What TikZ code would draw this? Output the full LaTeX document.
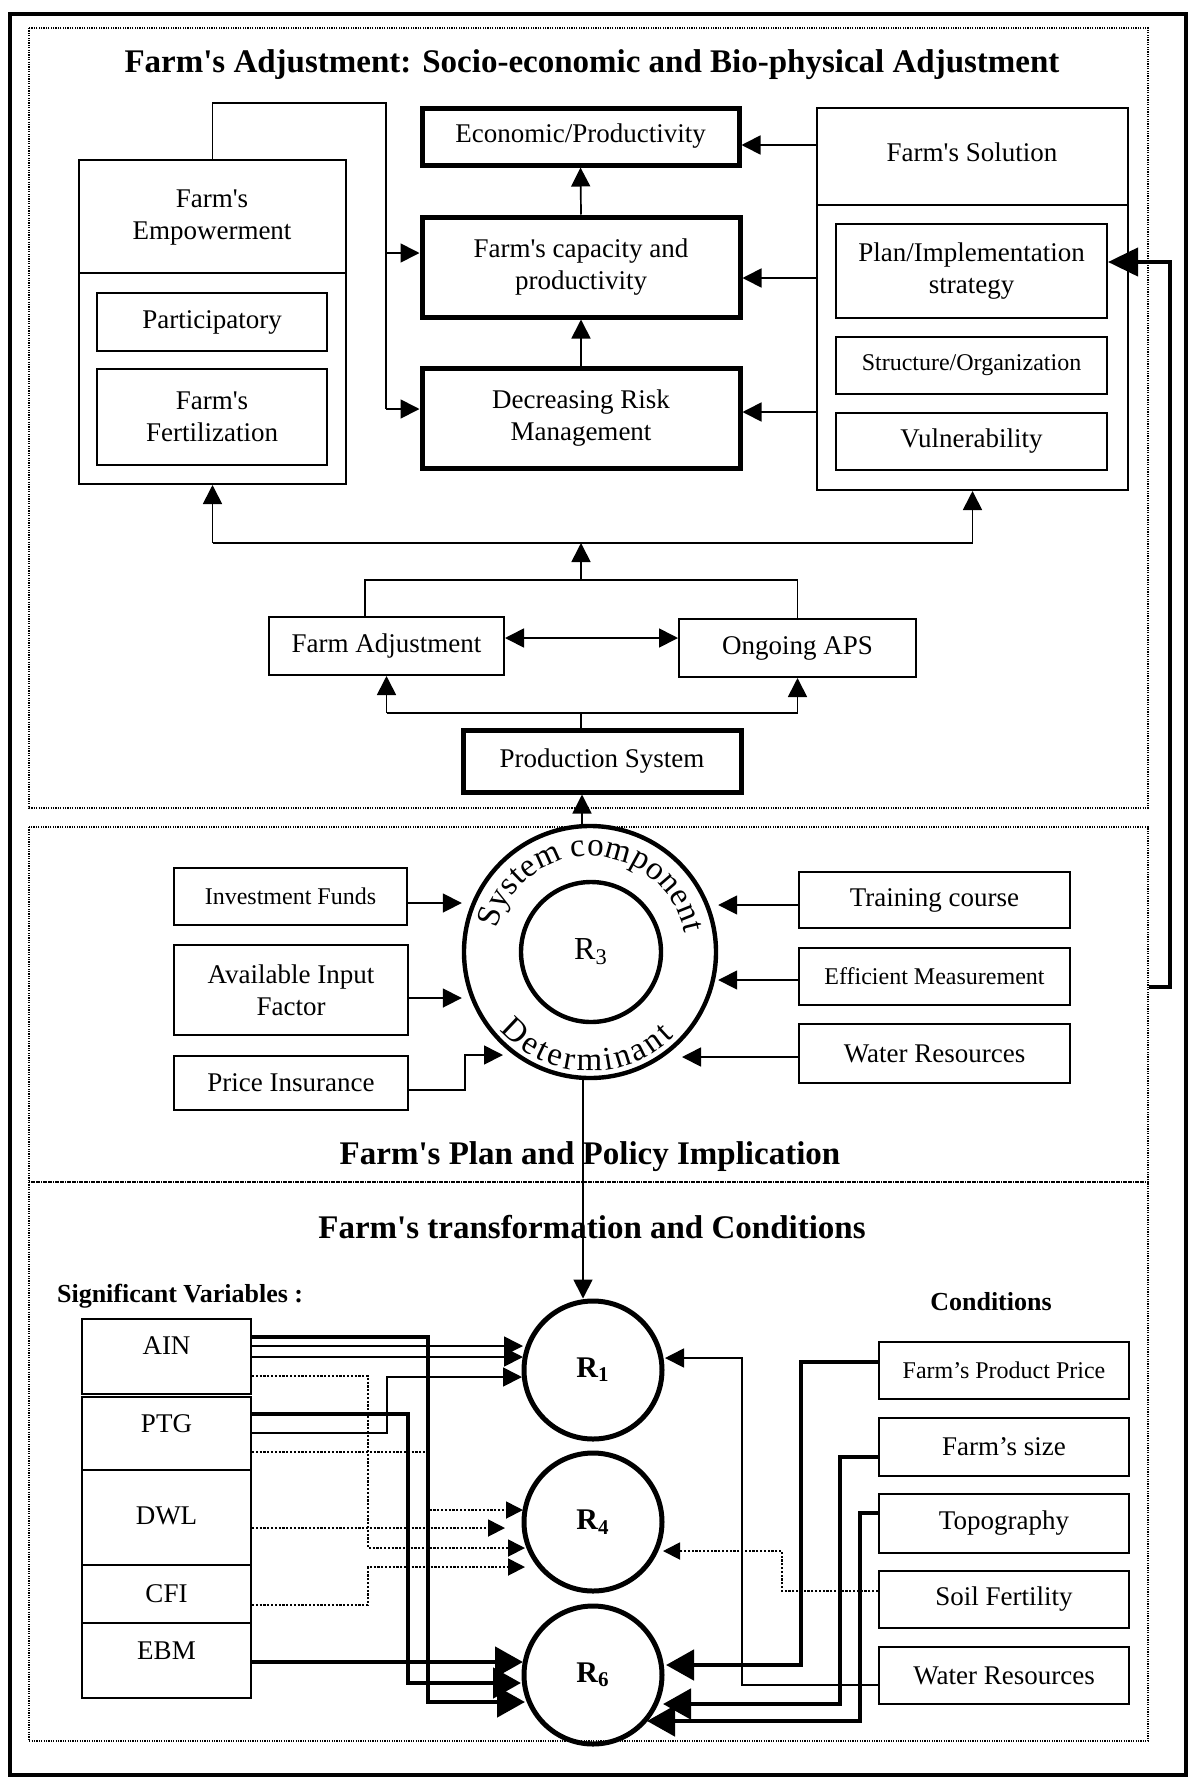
\documentclass[tikz,border=0pt]{standalone}
\usepackage{fontspec}
\setmainfont{Liberation Serif}
\usetikzlibrary{arrows.meta,decorations.text}
\newcommand\fnorm{\fontsize{13.5}{16}\selectfont}
\newcommand\fsmall{\fontsize{12}{14}\selectfont}
\newcommand\fhead{\fontsize{16.5}{19}\selectfont\bfseries}
\newcommand\fsubhead{\fontsize{13}{15}\selectfont\bfseries}
\newcommand\ringfont{\fontsize{16.5}{17}\selectfont}
\newcommand\sq{\textquotesingle}
\begin{document}
\begin{tikzpicture}[x=0.5pt,y=-0.5pt,
  ln/.style={line width=0.85pt},
  arr/.style={ln,-{Triangle[length=9.5pt,width=9.5pt]}},
  darr/.style={ln,{Triangle[length=9.5pt,width=9.5pt]}-{Triangle[length=9.5pt,width=9.5pt]}},
  dotl/.style={line width=0.9pt,dash pattern=on 1.1pt off 0.8pt},
  dotarr/.style={dotl,-{Triangle[length=8.5pt,width=8.5pt]}},
  thk/.style={line width=2.4pt,-{Triangle[length=14pt,width=15pt]}},
  fb/.style={line width=2.1pt,-{Triangle[length=15pt,width=14pt]}},
  frame/.style={line width=0.6pt,dash pattern=on 0.6pt off 0.6pt},
  box/.style={draw,line width=1pt,inner sep=0pt,align=center,font=\fnorm},
  tbox/.style={box,line width=2.5pt},
  sz/.style 2 args={minimum width=#1pt,minimum height=#2pt},
  rcirc/.style={draw,circle,line width=2.5pt,minimum size=69pt,inner sep=0pt,font=\fontsize{15}{15}\selectfont\bfseries},
  ttl/.style={font=\fhead}
]
\useasboundingbox (0,0) rectangle (1193,1778);
\fill[white] (0,0) rectangle (1193,1778);

% frames
\draw[line width=2pt] (10,14) rectangle (1186,1775);
\draw[frame] (29,28) rectangle (1148,808);
\draw[frame] (29,827) rectangle (1148,1182);
\draw[frame] (29,1182) rectangle (1148,1741);

% ---------- top section ----------
\node[ttl] (t1) at (592,65) {Farm\sq s Adjustment: Socio-economic and Bio-physical Adjustment};

\node[tbox, sz={158.5}{28.5}] (eco) at (580.5,136.5) {Economic/Productivity};
\node[tbox, sz={159}{50}] (cap) at (581,267) {Farm\sq s capacity and\\productivity};
\node[tbox, sz={159}{50}] (risk) at (581,418) {Decreasing Risk\\Management};

\node[box, sz={133.5}{162}] (emp) at (212.5,322) {};
\draw[line width=1pt] (emp.west |- 0,273) -- (emp.east |- 0,273);
\node[font=\fnorm, align=center] (empt) at (212,218) {Farm\sq s\\Empowerment};
\node[box, sz={115}{29}] (part) at (212,322) {Participatory};
\node[box, sz={115}{48}] (fert) at (212,417) {Farm\sq s\\Fertilization};

\node[box, sz={155.5}{191}] (sol) at (972.5,299) {};
\draw[line width=1pt] (sol.west |- 0,205) -- (sol.east |- 0,205);
\node[font=\fnorm] (solt) at (972,152) {Farm\sq s Solution};
\node[box, sz={135.5}{47}] (plan) at (971.5,271) {Plan/Implementation\\strategy};
\node[box, font=\fsmall, sz={135.5}{28.5}] (struc) at (971.5,365.5) {Structure/Organization};
\node[box, sz={135.5}{28.5}] (vul) at (971.5,441.5) {Vulnerability};

\node[box, sz={117.5}{29}] (fa) at (386.5,646) {Farm Adjustment};
\node[box, sz={118.5}{29}] (aps) at (797.5,648) {Ongoing APS};
\node[tbox, sz={139}{31}] (prod) at (602,761) {Production System};

% top connectors
\draw[ln] (emp.north) |- (386,103) -- (386,409);
\draw[arr] (386,409) -- (risk.west |- 0,409);
\draw[arr] (386,253) -- (cap.west |- 0,253);
\draw[arr] (risk.north) -- (cap.south);
\draw[arr] (cap.north) -- (eco.south);
\draw[arr] (sol.west |- 0,145) -- (eco.east |- 0,145);
\draw[arr] (sol.west |- 0,278) -- (cap.east |- 0,278);
\draw[arr] (sol.west |- 0,412) -- (risk.east |- 0,412);

\draw[ln] (emp.south |- 0,543) -- (sol.south |- 0,543);
\draw[arr] (emp.south |- 0,543) -- (emp.south);
\draw[arr] (sol.south |- 0,543) -- (sol.south);
\draw[ln] (fa.north -| 365,0) |- (aps.north |- 0,580) -- (aps.north);
\draw[arr] (581,580) -- (581,543);
\draw[darr] (fa.east |- 0,638) -- (aps.west |- 0,638);
\draw[ln] (prod.north -| 581,0) -- (581,713);
\draw[ln] (fa.south |- 0,713) -- (aps.south |- 0,713);
\draw[arr] (fa.south |- 0,713) -- (fa.south);
\draw[arr] (aps.south |- 0,713) -- (aps.south);

% ---------- middle section ----------
\node[draw, circle, line width=2.2pt, minimum size=126pt, inner sep=0pt] (ring) at (590,952) {};
\node[draw, circle, line width=2.2pt, minimum size=70pt, inner sep=0pt, font=\fontsize{16}{16}\selectfont] (r3) at (591,952) {R\textsubscript{3}};
\begin{scope}[shift={(590,952)}, x=0.5pt, y=0.5pt]
  \path[decorate, decoration={text along path, text={|\ringfont|System component}, text align={fit to path}}]
    (166:96) arc[start angle=166, end angle=11, radius=96];
  \path[decorate, decoration={text along path, text={|\ringfont|Determinant}, text align={fit to path}}]
    (221:119) arc[start angle=221, end angle=315, radius=119];
\end{scope}

\draw[arr] (ring.north -| 582,0) -- (prod.south -| 582,0);

\node[box, font=\fsmall, sz={116.5}{28.5}] (inv) at (290.5,896.5) {Investment Funds};
\node[box, sz={117}{45}] (avail) at (291,990) {Available Input\\Factor};
\node[box, sz={117}{27}] (price) at (291,1083) {Price Insurance};
\node[box, sz={135.5}{28}] (train) at (934.5,900) {Training course};
\node[box, font=\fsmall, sz={135.5}{28.5}] (eff) at (934.5,976.5) {Efficient Measurement};
\node[box, sz={135.5}{29.5}] (wat1) at (934.5,1053.5) {Water Resources};

\draw[arr] (inv.east |- 0,903) -- (ring.west |- 0,903);
\draw[arr] (avail.east |- 0,998) -- (ring.west |- 0,998);
\draw[arr] (price.east |- 0,1090) -- (465,1090) -- (465,1055) -- (503,1055);
\draw[arr] (train.west |- 0,905) -- (ring.east |- 0,905);
\draw[arr] (eff.west |- 0,980) -- (ring.east |- 0,980);
\draw[arr] (wat1.west |- 0,1057) -- (682,1057);

\coordinate (fbs) at (1149,987);
\draw[fb] (fbs) -| (1170,262) -- (plan.east |- 0,262);

\node[ttl] (t2) at (590,1157) {Farm\sq s Plan and Policy Implication};

% ---------- lower section ----------
\node[ttl] (t3) at (592,1227) {Farm\sq s transformation and Conditions};
\node[font=\fsubhead, anchor=west] (sig) at (50,1296) {Significant Variables :};
\node[font=\fsubhead] (cond) at (991,1302) {Conditions};

\node[rcirc] (r1) at (593,1370) {R\textsubscript{1}};
\node[rcirc] (r4) at (593,1522) {R\textsubscript{4}};
\node[rcirc] (r6) at (593,1675) {R\textsubscript{6}};

\draw[arr] (ring.south -| 583,0) -- (r1.north -| 583,0);

\node[box, sz={84.5}{37.5}, label={[font=\fnorm, yshift=5.5pt]center:AIN}] (ain) at (166.5,1356.5) {};
\node[box, sz={84.5}{36.5}, label={[font=\fnorm, yshift=4.7pt]center:PTG}] (ptg) at (166.5,1433.5) {};
\node[box, sz={84.5}{47.5}, label={[font=\fnorm, yshift=1pt]center:DWL}] (dwl) at (166.5,1517.5) {};
\node[box, sz={84.5}{29}, label={[font=\fnorm]center:CFI}] (cfi) at (166.5,1594) {};
\node[box, sz={84.5}{37.5}, label={[font=\fnorm, yshift=4.7pt]center:EBM}] (ebm) at (166.5,1660.5) {};

\node[box, font=\fsmall, sz={125}{28.5}] (fpp) at (1004,1370.5) {Farm’s Product Price};
\node[box, sz={125}{29}] (fsz) at (1004,1447) {Farm’s size};
\node[box, sz={125}{29.5}] (topo) at (1004,1523.5) {Topography};
\node[box, sz={125}{28.5}] (soil) at (1004,1599.5) {Soil Fertility};
\node[box, sz={125}{28.5}] (wat2) at (1004,1675.5) {Water Resources};

% dotted connectors
\draw[dotarr] (ain.east |- 0,1376) -- (368,1376) -- (368,1548) -- (525,1548);
\draw[dotarr] (ptg.east |- 0,1452) -- (428,1452) -- (428,1510) -- (523,1510);
\draw[dotarr] (dwl.east |- 0,1528) -- (505,1528);
\draw[dotarr] (cfi.east |- 0,1605) -- (368,1605) -- (368,1567) -- (525,1567);
\draw[dotarr] (soil.west |- 0,1591) -- (782,1591) -- (782,1551) -- (663,1551);

% thin connectors
\draw[arr] (ain.east |- 0,1346) -- (523,1346);
\draw[arr] (ain.east |- 0,1357) -- (523,1357);
\draw[arr] (ptg.east |- 0,1433) -- (387,1433) -- (387,1377) -- (522,1377);
\draw[arr] (wat2.west |- 0,1685) -- (742,1685) -- (742,1358) -- (665,1358);

% thick connectors
\draw[thk] (ain.east |- 0,1337) -- (428,1337) -- (428,1702) -- (525,1702);
\draw[thk] (ptg.east |- 0,1414) -- (408,1414) -- (408,1683) -- (521,1683);
\draw[thk] (ebm.east |- 0,1662) -- (523,1662);
\draw[thk] (fpp.west |- 0,1362) -- (801,1362) -- (801,1665) -- (666,1665);
\draw[thk] (fsz.west |- 0,1457) -- (840,1457) -- (840,1704) -- (663,1704);
\draw[thk] (topo.west |- 0,1513) -- (860,1513) -- (860,1721) -- (647,1721);
\end{tikzpicture}
\end{document}
